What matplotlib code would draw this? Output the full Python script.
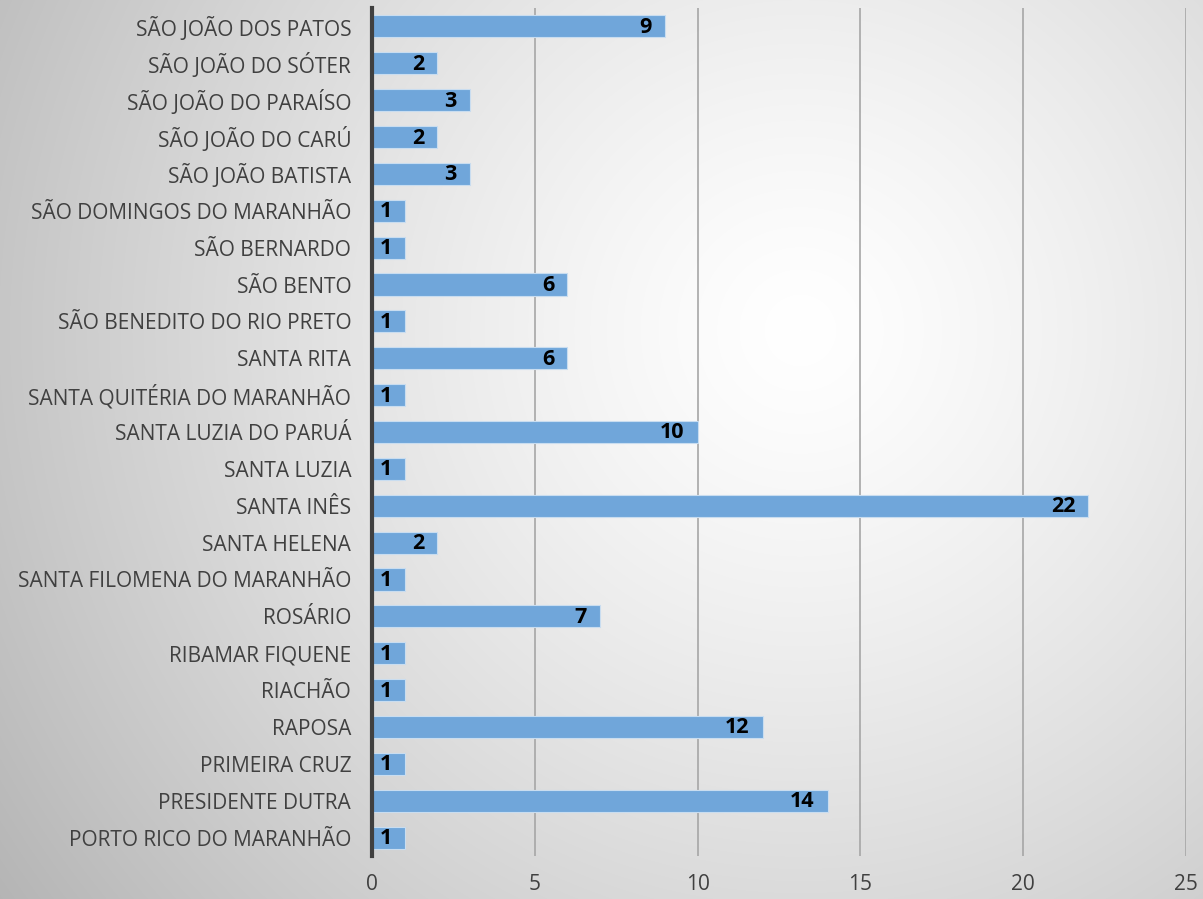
import numpy as np
import matplotlib
matplotlib.use("Agg")
import matplotlib.pyplot as plt

categories = [
    "PORTO RICO DO MARANHÃO", "PRESIDENTE DUTRA", "PRIMEIRA CRUZ", "RAPOSA",
    "RIACHÃO", "RIBAMAR FIQUENE", "ROSÁRIO", "SANTA FILOMENA DO MARANHÃO",
    "SANTA HELENA", "SANTA INÊS", "SANTA LUZIA", "SANTA LUZIA DO PARUÁ",
    "SANTA QUITÉRIA DO MARANHÃO", "SANTA RITA", "SÃO BENEDITO DO RIO PRETO",
    "SÃO BENTO", "SÃO BERNARDO", "SÃO DOMINGOS DO MARANHÃO", "SÃO JOÃO BATISTA",
    "SÃO JOÃO DO CARÚ", "SÃO JOÃO DO PARAÍSO", "SÃO JOÃO DO SÓTER",
    "SÃO JOÃO DOS PATOS",
]
values = [1, 14, 1, 12, 1, 1, 7, 1, 2, 22, 1, 10, 1, 6, 1, 6, 1, 1, 3, 2, 3, 2, 9]
xticks = [0, 5, 10, 15, 20, 25]

plt.rcParams['font.family'] = ['Open Sans', 'DejaVu Sans']

W, H = 1203, 899
fig = plt.figure(figsize=(W / 100, H / 100), dpi=100)

# radial gradient background
bg = fig.add_axes([0, 0, 1, 1], zorder=-10)
yy, xx = np.mgrid[0:H, 0:W]
cx, cy = 800, 330
r = np.sqrt((xx - cx) ** 2 + (yy - cy) ** 2) / 900.0
v = 1.0 - 0.26 * np.clip(r, 0, 1.2) ** 1.3
img = np.dstack([v, v, v])
bg.imshow(img, aspect='auto', extent=[0, W, H, 0])
bg.axis('off')

ax = fig.add_axes([372 / W, 1 - 856 / H, (1186 - 372) / W, (856 - 8) / H])
ax.patch.set_alpha(0)

y = np.arange(len(categories))
ax.barh(y, values, height=0.6, color='#70A6DA', edgecolor='#C9DDF0', linewidth=0.8, zorder=3)

for yi, val in zip(y, values):
    ax.annotate(str(val), xy=(val, yi), xytext=(-13, -1), textcoords='offset pixels',
                ha='right', va='center', fontsize=15.5, fontweight='bold', color='black', zorder=4)

ax.set_xlim(0, 25)
ax.set_ylim(-0.5, len(categories) - 0.5)
ax.set_xticks(xticks)
ax.set_yticks(y)
ax.set_yticklabels(categories, fontsize=15, color='#404040')
ax.tick_params(axis='x', labelsize=15, labelcolor='#404040', length=0, pad=13)
ax.tick_params(axis='y', length=0, pad=15)
ax.xaxis.grid(True, color='#A6A6A6', linewidth=1.2, zorder=0)
ax.set_axisbelow(True)
for s in ['top', 'right', 'bottom']:
    ax.spines[s].set_visible(False)
ax.spines['left'].set_color('#404040')
ax.spines['left'].set_linewidth(3)
ax.spines['left'].set_zorder(5)

fig.savefig('out.png', dpi=100)
